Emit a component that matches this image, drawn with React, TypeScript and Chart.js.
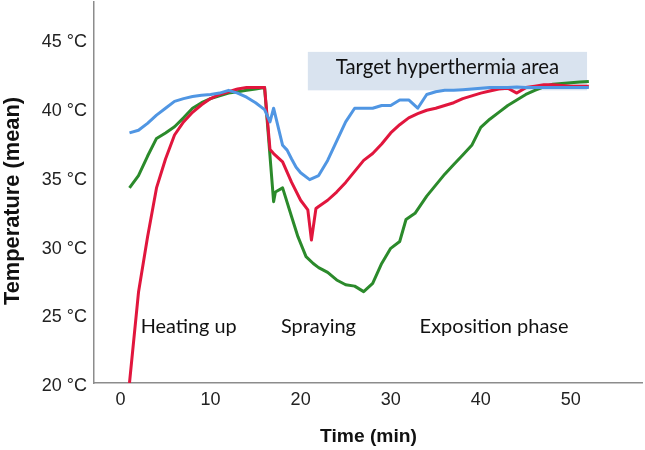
import React, { useEffect, useRef } from "react";
import { Chart, registerables } from "chart.js";

Chart.register(...registerables);

// ---- Data ----
const blueTimes = [1, 2, 3, 4, 5, 6, 7, 8, 9, 10, 11, 12, 13, 14, 15, 16, 16.6, 17, 18, 18.5, 19, 19.5, 20, 21, 22, 23, 24, 25, 26, 27, 28, 29, 30, 31, 32, 33, 34, 35, 36, 37, 38, 39, 40, 41, 42, 43, 44, 45, 46, 47, 48, 49, 50, 51, 52];
const blueTemps = [38.2, 38.4, 38.9, 39.5, 40.0, 40.5, 40.7, 40.85, 40.95, 41.0, 41.1, 41.3, 41.1, 40.8, 40.4, 39.9, 39.0, 40.0, 37.3, 36.95, 36.3, 35.7, 35.3, 34.8, 35.1, 36.2, 37.6, 39.0, 40.0, 40.0, 40.0, 40.2, 40.2, 40.6, 40.6, 40.0, 41.0, 41.2, 41.3, 41.3, 41.35, 41.4, 41.45, 41.5, 41.5, 41.5, 41.55, 41.5, 41.5, 41.5, 41.5, 41.5, 41.5, 41.5, 41.5];

const redTimes = [1, 2, 3, 4, 5, 6, 7, 8, 9, 10, 11, 12, 13, 14, 15, 16, 16.6, 17, 18, 19, 20, 20.8, 21.2, 21.7, 22, 23, 24, 25, 26, 27, 28, 29, 30, 31, 32, 33, 34, 35, 36, 37, 38, 39, 40, 41, 42, 43, 44, 45, 46, 47, 48, 49, 50, 51, 52];
const redTemps = [20.0, 26.6, 30.6, 34.2, 36.3, 38.05, 39.0, 39.7, 40.25, 40.7, 41.0, 41.2, 41.4, 41.5, 41.5, 41.5, 37.0, 36.7, 36.1, 34.6, 33.3, 32.6, 30.4, 32.7, 32.85, 33.3, 33.9, 34.6, 35.4, 36.2, 36.7, 37.4, 38.2, 38.8, 39.3, 39.6, 39.85, 40.0, 40.2, 40.4, 40.7, 40.9, 41.1, 41.25, 41.4, 41.45, 41.1, 41.5, 41.6, 41.7, 41.7, 41.65, 41.6, 41.6, 41.6];

const greenTimes = [1, 2, 3, 4, 5, 6, 7, 8, 9, 10, 11, 12, 13, 14, 15, 16, 17, 17.2, 18, 19, 19.7, 20.6, 21.4, 22, 23, 24, 25, 26, 27, 28, 29, 30, 31, 31.7, 32.7, 34, 35, 36, 37, 38, 39, 40, 41, 42, 43, 44, 45, 46, 47, 48, 49, 50, 51, 52];
const greenTemps = [34.2, 35.1, 36.5, 37.8, 38.2, 38.65, 39.3, 40.0, 40.4, 40.7, 40.9, 41.1, 41.2, 41.3, 41.4, 41.5, 33.2, 33.9, 34.2, 32.1, 30.65, 29.2, 28.7, 28.4, 28.05, 27.5, 27.15, 27.05, 26.65, 27.25, 28.7, 29.8, 30.3, 31.9, 32.35, 33.6, 34.4, 35.2, 35.9, 36.6, 37.3, 38.6, 39.2, 39.7, 40.2, 40.6, 41.0, 41.3, 41.55, 41.75, 41.8, 41.85, 41.9, 41.95];

const xTickValues = [0, 10, 20, 30, 40, 50];
const yTickValues = [20, 25, 30, 35, 40, 45];

const targetTimeRange = [20.8, 51.8];
const targetTempRange = [41.3, 44.1];
const targetLabel = "Target hyperthermia area";
const phaseLabels = ["Heating up", "Spraying", "Exposition phase"];
const xTitle = "Time (min)";
const yTitle = "Temperature (mean)";

const toPoints = (xs: number[], ys: number[]) => xs.map((x, i) => ({ x, y: ys[i] }));

function fitText(
  ctx: CanvasRenderingContext2D,
  text: string,
  x: number,
  y: number,
  width: number,
  align: CanvasTextAlign,
  family: string,
  weight: string
) {
  ctx.font = `${weight} 20px ${family}`;
  const w = ctx.measureText(text).width;
  const size = (20 * width) / w;
  ctx.font = `${weight} ${size}px ${family}`;
  ctx.textAlign = align;
  ctx.textBaseline = "alphabetic";
  ctx.fillText(text, x, y);
}

const overlayPlugin = {
  id: "overlay",
  beforeDatasetsDraw(chart: any) {
    const { ctx, scales } = chart;
    const xs = scales.x;
    const ys = scales.y;
    const x0 = xs.getPixelForValue(targetTimeRange[0]);
    const x1 = xs.getPixelForValue(targetTimeRange[1]);
    const y0 = ys.getPixelForValue(targetTempRange[1]);
    const y1 = ys.getPixelForValue(targetTempRange[0]);
    ctx.save();
    ctx.fillStyle = "#d9e3ef";
    ctx.fillRect(x0, y0, x1 - x0, y1 - y0);
    ctx.fillStyle = "#111111";
    fitText(ctx, targetLabel, (x0 + x1) / 2, 73.5, 223.5, "center", "Lato", "normal");
    ctx.restore();
  },
  afterDraw(chart: any) {
    const { ctx } = chart;
    ctx.save();
    ctx.fillStyle = "#111111";
    fitText(ctx, phaseLabels[0], 140.7, 332.7, 96, "left", "Lato", "normal");
    fitText(ctx, phaseLabels[1], 281, 332.7, 75, "left", "Lato", "normal");
    fitText(ctx, phaseLabels[2], 419.6, 332.7, 149, "left", "Lato", "normal");
    // axis titles
    fitText(ctx, xTitle, 368.5, 442, 97, "center", "'Liberation Sans', Arial, sans-serif", "bold");
    ctx.translate(19, 201);
    ctx.rotate(-Math.PI / 2);
    fitText(ctx, yTitle, 0, 0, 208, "center", "'Liberation Sans', Arial, sans-serif", "bold");
    ctx.restore();
  },
};

export default function App() {
  const canvasRef = useRef<HTMLCanvasElement | null>(null);

  useEffect(() => {
    if (!canvasRef.current) return;
    const tickFont = { family: "'Liberation Sans', Arial, sans-serif", size: 18 };
    const common = { borderWidth: 3, pointRadius: 0, tension: 0, fill: false, borderJoinStyle: "round" as const };
    const chart = new Chart(canvasRef.current, {
      type: "line",
      data: {
        datasets: [
          { ...common, label: "Blue", data: toPoints(blueTimes, blueTemps), borderColor: "#5096e3" },
          { ...common, label: "Red", data: toPoints(redTimes, redTemps), borderColor: "#e1163d" },
          { ...common, label: "Green", data: toPoints(greenTimes, greenTemps), borderColor: "#2b8a2b" },
        ],
      },
      options: {
        animation: false,
        responsive: false,
        maintainAspectRatio: false,
        parsing: false,
        layout: { padding: { top: 2, right: 3, left: 0, bottom: 0 } },
        plugins: { legend: { display: false }, tooltip: { enabled: false } },
        scales: {
          x: {
            type: "linear",
            min: -2.94,
            max: 57.9,
            grid: { display: false, drawTicks: false },
            border: { display: true, color: "#8c8c8c", width: 1.5 },
            afterBuildTicks: (s: any) => {
              s.ticks = xTickValues.map((v) => ({ value: v }));
            },
            afterFit: (s: any) => {
              s.height = 67;
              s.paddingLeft = 0;
              s.paddingRight = 0;
            },
            ticks: { font: tickFont, color: "#222222", padding: 6, maxRotation: 0, autoSkip: false },
          },
          y: {
            type: "linear",
            min: 20,
            max: 47.73,
            grid: { display: false, drawTicks: false },
            border: { display: true, color: "#8c8c8c", width: 1.5 },
            afterBuildTicks: (s: any) => {
              s.ticks = yTickValues.map((v) => ({ value: v }));
            },
            afterFit: (s: any) => {
              s.width = 94;
              s.paddingTop = 0;
              s.paddingBottom = 0;
            },
            ticks: {
              font: tickFont,
              color: "#222222",
              padding: 7,
              labelOffset: 3,
              callback: (v: any) => `${v} °C`,
            },
          },
        },
      },
      plugins: [overlayPlugin],
    });
    return () => chart.destroy();
  }, []);

  return (
    <div style={{ position: "absolute", left: 0, top: 0, width: 645, height: 450, background: "#ffffff" }}>
      <canvas ref={canvasRef} width={645} height={450} style={{ display: "block" }} />
    </div>
  );
}
